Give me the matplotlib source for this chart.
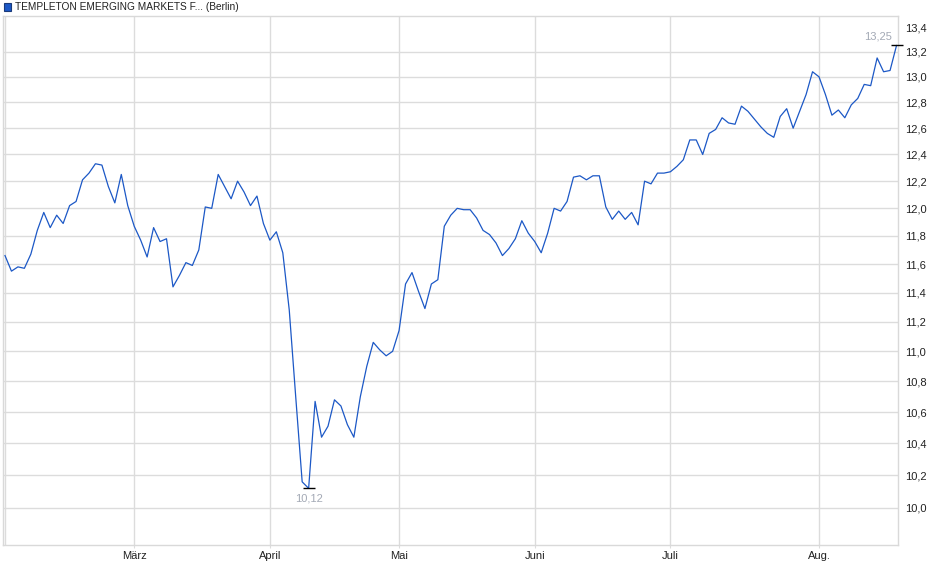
import matplotlib
matplotlib.use('Agg')
import matplotlib.pyplot as plt
from matplotlib.patches import Rectangle
from matplotlib.ticker import FixedLocator, NullLocator, FuncFormatter

plt.rcParams['font.family'] = ['Liberation Sans', 'DejaVu Sans']

# ---- data (one value per trading day, Feb 3 .. Aug 19) ----
title = "TEMPLETON EMERGING MARKETS F... (Berlin)"
prices = [
    11.66, 11.55, 11.58, 11.57, 11.67, 11.84, 11.97, 11.86, 11.95, 11.89,
    12.02, 12.05, 12.21, 12.26, 12.33, 12.32, 12.16, 12.04, 12.25, 12.02,
    11.87, 11.77, 11.65, 11.86, 11.76, 11.78, 11.44, 11.52, 11.61, 11.59,
    11.70, 12.01, 12.00, 12.25, 12.16, 12.07, 12.20, 12.12, 12.02, 12.09,
    11.89, 11.77, 11.83, 11.68, 11.28, 10.70, 10.16, 10.12, 10.67, 10.44,
    10.51, 10.68, 10.64, 10.52, 10.44, 10.70, 10.90, 11.06, 11.01, 10.97,
    11.00, 11.14, 11.46, 11.54, 11.41, 11.29, 11.46, 11.49, 11.87, 11.95,
    12.00, 11.99, 11.99, 11.93, 11.84, 11.81, 11.75, 11.66, 11.71, 11.78,
    11.91, 11.82, 11.76, 11.68, 11.82, 12.00, 11.98, 12.05, 12.23, 12.24,
    12.21, 12.24, 12.24, 12.01, 11.92, 11.98, 11.92, 11.97, 11.88, 12.20,
    12.18, 12.26, 12.26, 12.27, 12.31, 12.36, 12.51, 12.51, 12.40, 12.56,
    12.59, 12.68, 12.64, 12.63, 12.77, 12.73, 12.67, 12.61, 12.56, 12.53,
    12.69, 12.75, 12.60, 12.73, 12.86, 13.04, 13.00, 12.86, 12.70, 12.74,
    12.68, 12.78, 12.83, 12.94, 12.93, 13.15, 13.04, 13.05, 13.25,
]
month_labels = ["März", "April", "Mai", "Juni", "Juli", "Aug."]
month_first_idx = [20, 41, 61, 82, 103, 126]
y_ticks = [10.0, 10.2, 10.4, 10.6, 10.8, 11.0, 11.2, 11.4, 11.6, 11.8,
           12.0, 12.2, 12.4, 12.6, 12.8, 13.0, 13.2, 13.4]
low_idx, low_val = 47, 10.12
high_idx, high_val = 138, 13.25

# ---- figure ----
W, H = 940, 579
fig = plt.figure(figsize=(W / 100, H / 100), dpi=100)
ax = fig.add_axes([3 / W, 1 - 545 / H, (898 - 3) / W, (545 - 16) / H])

grid_c = '#dcdcdc'
line_c = '#1c58c6'

x = list(range(len(prices)))
ax.plot(x, prices, color=line_c, lw=0.9, zorder=3)

ax.set_yscale('log')
ax.set_ylim(9.777, 13.49)
ax.set_xlim(-0.31, 138.23)

ax.yaxis.set_major_locator(FixedLocator(y_ticks))
ax.yaxis.set_minor_locator(NullLocator())
ax.yaxis.set_major_formatter(FuncFormatter(lambda v, p: f"{v:.1f}".replace('.', ',')))
ax.yaxis.tick_right()
ax.tick_params(axis='y', which='both', length=0, pad=5, labelsize=8, labelcolor='#222222')

ax.set_xticks(month_first_idx)
ax.set_xticklabels(month_labels)
ax.xaxis.set_minor_locator(NullLocator())
ax.tick_params(axis='x', length=2, color=grid_c, pad=2, labelsize=8, labelcolor='#222222')

# gridlines
for xv in month_first_idx:
    ax.axvline(xv, color=grid_c, lw=1, zorder=1)
ax.axvline(0, color=grid_c, lw=1, zorder=1)
for yv in y_ticks[:-1]:
    ax.axhline(yv, color=grid_c, lw=1, zorder=1)

for s in ax.spines.values():
    s.set_color('#d9d9d9')
    s.set_linewidth(1)

# extreme markers
ax.plot([low_idx], [low_val], marker='_', ms=9, mew=1, color='black', zorder=4)
ax.annotate(f"{low_val:.2f}".replace('.', ','), (low_idx, low_val), xytext=(0, -4),
            textcoords='offset points', ha='center', va='top', fontsize=8, color='#a3a9b5')
ax.plot([high_idx], [high_val], marker='_', ms=9, mew=1, color='black', zorder=4,
        clip_on=False)
ax.annotate(f"{high_val:.2f}".replace('.', ','), (high_idx, high_val), xytext=(-3.5, 3),
            textcoords='offset points', ha='right', va='bottom', fontsize=8, color='#a3a9b5')

# legend
fig.patches.append(Rectangle((4 / W, 1 - 10.5 / H), 7 / W, 7 / H, transform=fig.transFigure,
                             facecolor=line_c, edgecolor='#1b3a7a', lw=0.8))
fig.text(15 / W, 1 - 6.5 / H, title, fontsize=7.3, color='#222222', ha='left', va='center')

fig.savefig('out.png', dpi=100)
